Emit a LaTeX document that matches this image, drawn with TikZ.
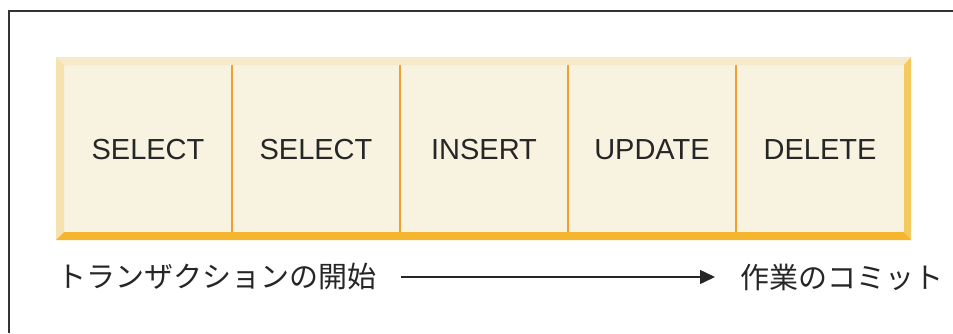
\documentclass[tikz,border=0pt]{standalone}
\usepackage{fontspec}
\setmainfont{Liberation Sans}
\newfontfamily\jpfont{Noto Sans CJK JP}
\usetikzlibrary{arrows.meta}

\definecolor{cellfill}{HTML}{F8F2E1}
\definecolor{bevtop}{HTML}{F6EACB}
\definecolor{bevleft}{HTML}{F6E2AE}
\definecolor{bevright}{HTML}{F4CA5E}
\definecolor{bevbottom}{HTML}{F5B52E}
\definecolor{divider}{HTML}{F0A030}
\definecolor{frameline}{HTML}{333333}

\tikzset{
    cell/.style={minimum width=168pt, minimum height=170pt, inner sep=0pt,
        font=\fontsize{29}{34}\selectfont, text=black!85},
    jplabel/.style={anchor=west, inner sep=0pt, font=\jpfont\fontsize{29}{34}\selectfont, text=black!85}
}

\begin{document}
\begin{tikzpicture}[x=1pt,y=-1pt]
        \useasboundingbox (0,0) rectangle (953,333);
        %outer frame, only the left and top edges show
        \draw[line width=2pt, color=frameline] (8.5,333) -- (8.5,10.5) -- (953,10.5);

        %statements inside the band
        \fill[cellfill] (64,65) rectangle (904,232);
        \foreach \stmt [count=\i] in {SELECT,SELECT,INSERT,UPDATE,DELETE}
            \node[cell] (cell\i) at (168*\i-20,150) {\stmt};
        \foreach \i in {1,...,4}
            \draw[divider, line width=1.5pt] (cell\i.north east) -- (cell\i.south east);

        %bevelled edges
        \fill[bevtop] (56,57) -- (911,57) -- (904,65) -- (64,65) -- cycle;
        \fill[bevleft] (56,57) -- (64,65) -- (64,232) -- (56,240) -- cycle;
        \fill[bevright] (911,57) -- (911,240) -- (904,232) -- (904,65) -- cycle;
        \fill[bevbottom] (56,240) -- (911,240) -- (904,232) -- (64,232) -- cycle;

        %start and commit of the unit of work
        \node[jplabel] (start) at (57,277) {トランザクションの開始};
        \node[jplabel] (commit) at (740,277) {作業のコミット};
        \draw[line width=1.5pt, color=black!85, -{Triangle[length=15pt,width=14pt]},
            shorten <=25pt, shorten >=25pt] (start.east) -- (commit.west);
\end{tikzpicture}
\end{document}
